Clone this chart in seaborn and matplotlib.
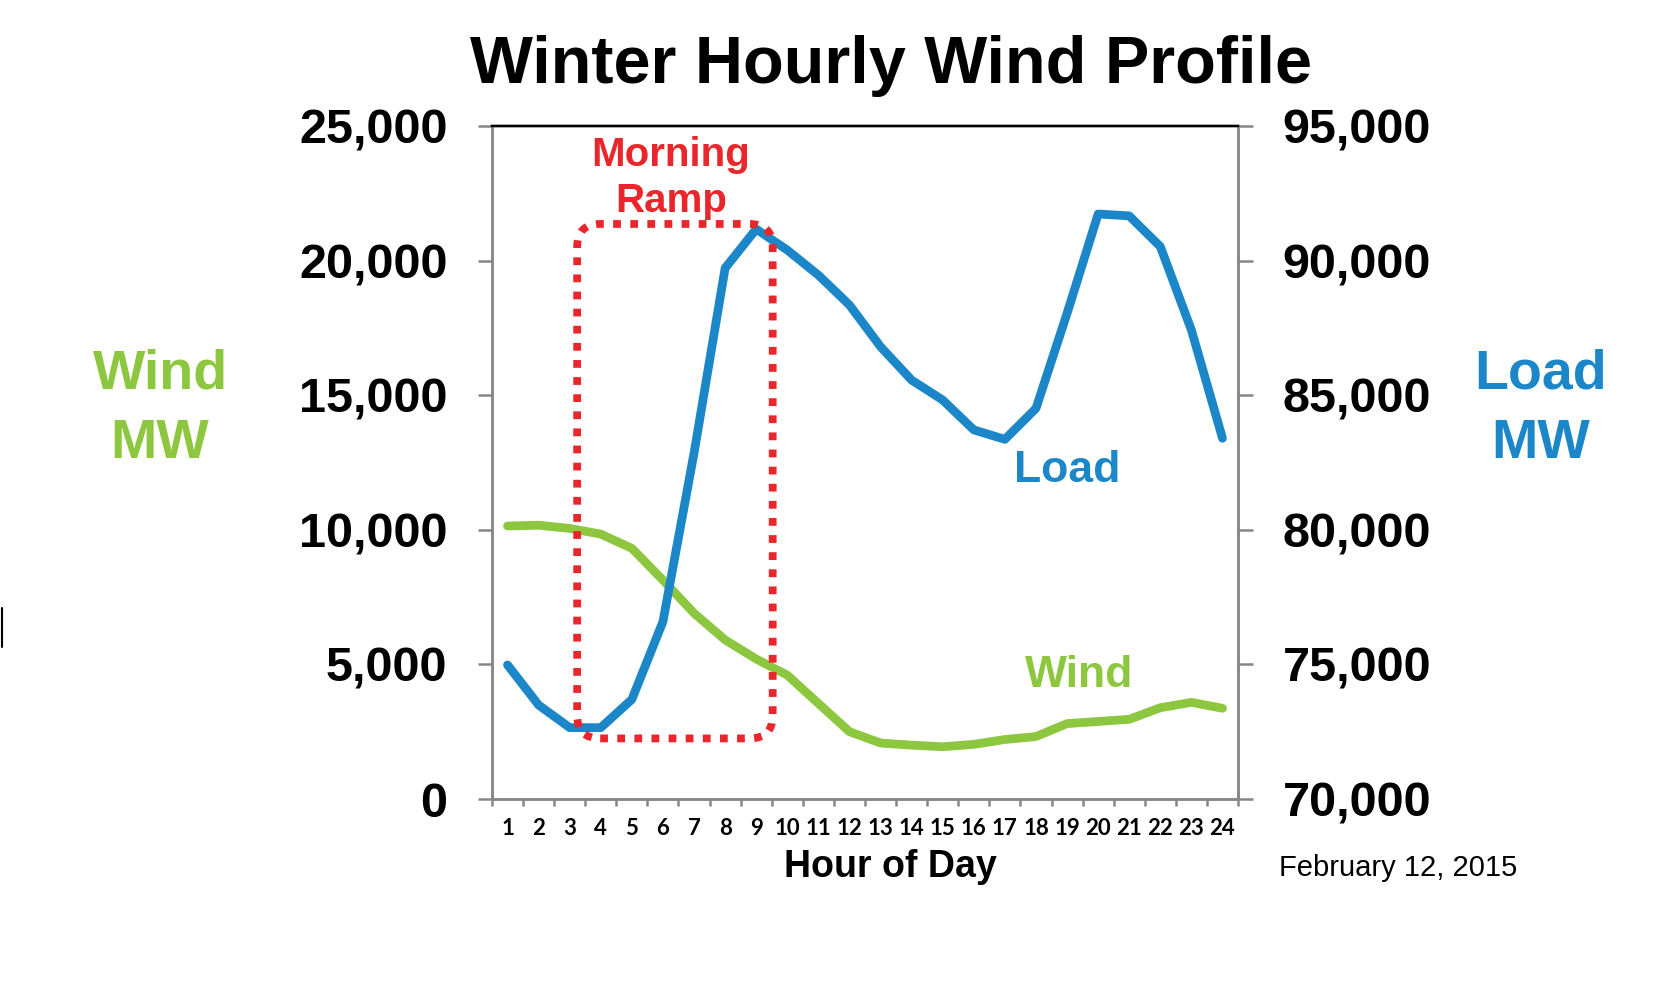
import matplotlib
matplotlib.use("Agg")
import matplotlib.pyplot as plt
import seaborn as sns
from matplotlib.patches import FancyBboxPatch
from matplotlib.lines import Line2D
from matplotlib.ticker import FuncFormatter

# --- data (February 12, 2015) ---
hours = list(range(1, 25))
wind_mw = [10140, 10170, 10050, 9840, 9310, 8130, 6900, 5910, 5200, 4600, 3550, 2500,
           2080, 2000, 1940, 2030, 2210, 2320, 2800, 2880, 2960, 3390, 3590, 3370]
load_mw = [74980, 73490, 72650, 72650, 73700, 76590, 82850, 89720, 91170, 90390, 89460, 88350,
           86800, 85560, 84820, 83710, 83360, 84510, 88040, 91730, 91660, 90520, 87420, 83400]
wind_ticks = [0, 5000, 10000, 15000, 20000, 25000]
load_ticks = [70000, 75000, 80000, 85000, 90000, 95000]
ramp_hours = [3.24, 9.53]     # dotted "Morning Ramp" box, in hours
ramp_mw = [2250, 21360]       # ... and in wind MW

GREEN = "#8DC63F"
BLUE = "#1B86C8"
RED = "#E8262B"
GREY = "#878787"

sns.set_style("white")
plt.rcParams["font.family"] = ["Liberation Sans", "DejaVu Sans"]
plt.rcParams["font.weight"] = "bold"
plt.rcParams["text.color"] = "black"
plt.rcParams["axes.labelcolor"] = "black"
plt.rcParams["xtick.labelcolor"] = "black"
plt.rcParams["ytick.labelcolor"] = "black"

fig = plt.figure(figsize=(16.78, 9.99), dpi=100)
ax = fig.add_axes([0.2932, 0.2002, 0.4446, 0.6737])
ax2 = ax.twinx()

sns.lineplot(x=hours, y=wind_mw, ax=ax, color=GREEN, linewidth=6.3,
             solid_joinstyle="round", solid_capstyle="round")
sns.lineplot(x=hours, y=load_mw, ax=ax2, color=BLUE, linewidth=6.3,
             solid_joinstyle="round", solid_capstyle="round")

ax.set_xlim(0.5, 24.5)
ax.set_ylim(wind_ticks[0], wind_ticks[-1])
ax2.set_ylim(load_ticks[0], load_ticks[-1])

fmt = FuncFormatter(lambda v, p: f"{v:,.0f}")
ax.set_yticks(wind_ticks)
ax.yaxis.set_major_formatter(fmt)
ax2.set_yticks(load_ticks)
ax2.yaxis.set_major_formatter(fmt)

ax.tick_params(axis="y", left=True, direction="out", length=10, width=1.8,
               color=GREY, labelcolor="black", pad=22, labelsize=35)
ax2.tick_params(axis="y", right=True, direction="out", length=11, width=1.8,
                color=GREY, labelcolor="black", pad=21, labelsize=35)

# category labels centred, tick marks between categories (Excel style)
ax.set_xticks(hours)
ax.set_xticklabels([str(h) for h in hours])
ax.set_xticks([h - 0.5 for h in hours] + [hours[-1] + 0.5], minor=True)
ax.tick_params(axis="x", which="major", bottom=True, length=0, pad=14,
               labelsize=16, labelcolor="black", labelfontfamily="Lato")
ax.tick_params(axis="x", which="minor", bottom=True, direction="out",
               length=5, width=1.8, color=GREY)

for a in (ax, ax2):
    for side in ("left", "right", "bottom"):
        a.spines[side].set_color(GREY)
        a.spines[side].set_linewidth(1.8)
    a.spines["top"].set_color("black")
    a.spines["top"].set_linewidth(1.7)
    a.set_ylabel("")

ax.set_xlabel("Hour of Day", fontsize=27, fontweight="bold", color="black")
ax.xaxis.set_label_coords(0.534, -0.1163)
ax.xaxis.label.set_va("baseline")

# morning ramp box
box = FancyBboxPatch((ramp_hours[0], ramp_mw[0]), ramp_hours[1] - ramp_hours[0],
                     ramp_mw[1] - ramp_mw[0],
                     boxstyle="round,pad=0,rounding_size=0.74", mutation_aspect=1150,
                     facecolor="none", edgecolor=RED, linewidth=5.6,
                     linestyle=(0, (1, 1.2)), transform=ax.transData, zorder=5)
ax2.add_patch(box)

ax.text(6.26, 23514, "Morning", color=RED, fontsize=29, ha="center", va="baseline")
ax.text(6.26, 21805, "Ramp", color=RED, fontsize=29, ha="center", va="baseline")
ax.text(19.0, 11783, "Load", color=BLUE, fontsize=32, ha="center", va="baseline")
ax.text(19.4, 4160, "Wind", color=GREEN, fontsize=32, ha="center", va="baseline")

fig.text(0.531, 0.9172, "Winter Hourly Wind Profile", fontsize=48, ha="center", va="baseline")
fig.text(0.0954, 0.6113, "Wind", color=GREEN, fontsize=40, ha="center", va="baseline")
fig.text(0.0954, 0.5412, "MW", color=GREEN, fontsize=40, ha="center", va="baseline")
fig.text(0.9183, 0.6113, "Load", color=BLUE, fontsize=40, ha="center", va="baseline")
fig.text(0.9183, 0.5412, "MW", color=BLUE, fontsize=40, ha="center", va="baseline")
fig.text(0.7625, 0.1231, "February 12, 2015", fontsize=21, fontweight="normal",
         ha="left", va="baseline")

# stray mark at the left edge of the slide
fig.add_artist(Line2D([0.0009, 0.0009], [1 - 608 / 999, 1 - 647 / 999],
                      transform=fig.transFigure, color="black", lw=1.5))

fig.savefig("out.png", dpi=100)
